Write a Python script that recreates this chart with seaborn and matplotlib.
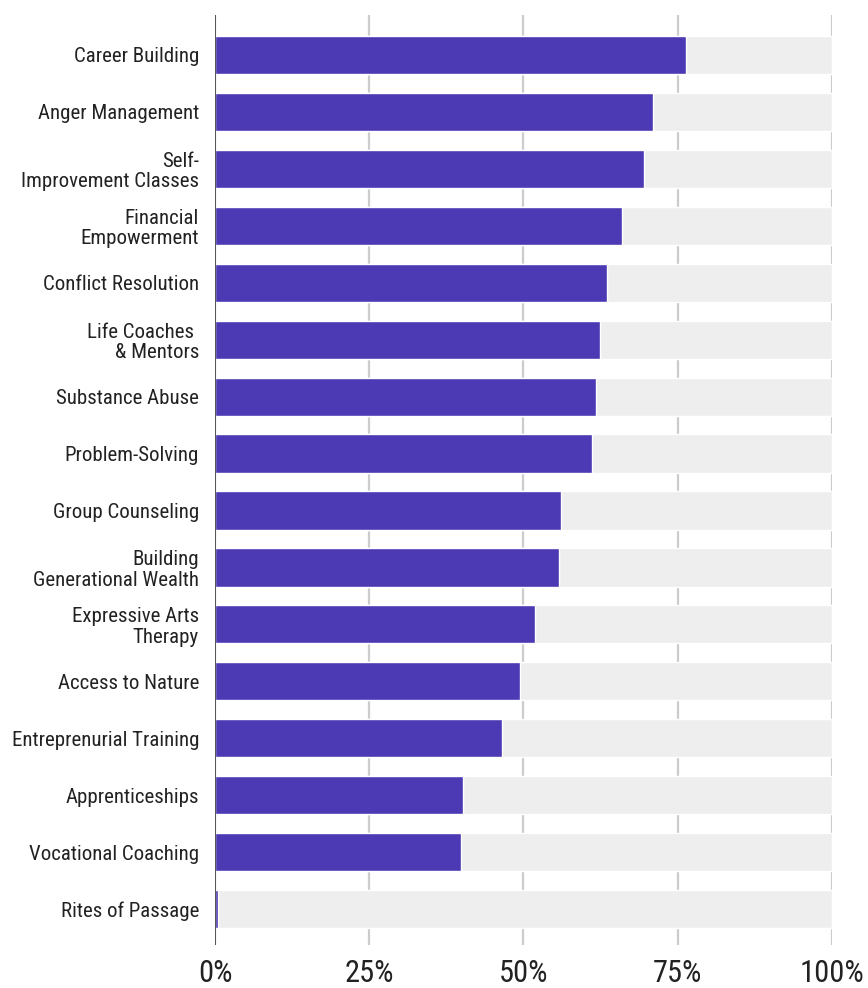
import numpy as np
import matplotlib.pyplot as plt
import pandas as pd
import seaborn as sns

#%% Dati
programs = ["Career Building", "Anger Management", "Self-\nImprovement Classes",
            "Financial\nEmpowerment", "Conflict Resolution", "Life Coaches \n& Mentors",
            "Substance Abuse", "Problem-Solving", "Group Counseling",
            "Building\nGenerational Wealth", "Expressive Arts\nTherapy", "Access to Nature",
            "Entreprenurial Training", "Apprenticeships", "Vocational Coaching",
            "Rites of Passage"]
share = [76.3, 71.0, 69.5, 66.0, 63.5, 62.4, 61.8, 61.1, 56.1, 55.8, 51.9, 49.4,
         46.5, 40.2, 39.9, 0.5]
full = [100] * len(programs)
x_ticks = [0, 25, 50, 75, 100]
x_labels = ["0%", "25%", "50%", "75%", "100%"]

df = pd.DataFrame({"program": programs, "share": share, "full": full})

#%% Plot
sns.set_style("white")
plt.rcParams["font.family"] = ["Roboto Condensed", "Roboto", "DejaVu Sans"]

fig = plt.figure(figsize=(8.68, 9.88), dpi=100)
ax = fig.add_axes([0.2477, 0.0435, 0.9585 - 0.2477, 0.9848 - 0.0435])

sns.barplot(data=df, x="full", y="program", orient="h", color="#eeeeee",
            width=0.67, ax=ax, zorder=2, saturation=1)
sns.barplot(data=df, x="share", y="program", orient="h", color="#4b3ab3",
            width=0.67, ax=ax, zorder=3, saturation=1)

ax.set_xlim(0, 100)
ax.set_ylim(15.63, -0.70)
ax.set_xticks(x_ticks)
ax.set_xticklabels(x_labels, fontsize=22, color="#222222")
ax.set_xlabel("")
ax.set_ylabel("")
for v in x_ticks[1:]:
    ax.axvline(v, color="#cccccc", lw=1.6, zorder=1)
ax.axvline(0, color="#555555", lw=1.5, zorder=4)

for lbl in ax.get_yticklabels():
    lbl.set_fontsize(15)
    lbl.set_color("#222222")
    lbl.set_linespacing(1.1)
ax.tick_params(axis="y", length=0, pad=11.5)
ax.tick_params(axis="x", length=0, pad=10)
sns.despine(ax=ax, left=True, bottom=True)

fig.savefig("out.png", dpi=100)
